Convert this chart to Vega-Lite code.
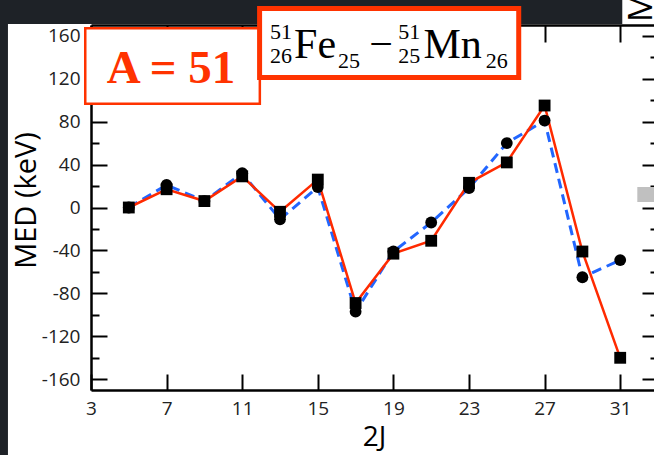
{
  "$schema": "https://vega.github.io/schema/vega-lite/v6.json",
  "width": 567,
  "height": 365,
  "autosize": {"type": "none"},
  "padding": {"left": 91, "top": 25, "right": -4, "bottom": 65},
  "background": "white",
  "data": {"values": [{}]},
  "config": {
    "view": {"stroke": "transparent"},
    "axis": {"grid": false, "domainColor": "black", "tickColor": "black", "labelColor": "#222", "titleColor": "black", "labelFont": "Open Sans", "titleFont": "Open Sans", "titleFontWeight": "normal"}
  },
  "datasets": {
    "med": [
      {"twoJ": 5, "series": "calc1", "MED": 0},
      {"twoJ": 7, "series": "calc1", "MED": 17},
      {"twoJ": 9, "series": "calc1", "MED": 6},
      {"twoJ": 11, "series": "calc1", "MED": 29},
      {"twoJ": 13, "series": "calc1", "MED": -4},
      {"twoJ": 15, "series": "calc1", "MED": 26},
      {"twoJ": 17, "series": "calc1", "MED": -89},
      {"twoJ": 19, "series": "calc1", "MED": -43},
      {"twoJ": 21, "series": "calc1", "MED": -31},
      {"twoJ": 23, "series": "calc1", "MED": 23},
      {"twoJ": 25, "series": "calc1", "MED": 42},
      {"twoJ": 27, "series": "calc1", "MED": 95},
      {"twoJ": 29, "series": "calc1", "MED": -41},
      {"twoJ": 31, "series": "calc1", "MED": -140},
      {"twoJ": 5, "series": "calc2", "MED": 0},
      {"twoJ": 7, "series": "calc2", "MED": 21},
      {"twoJ": 9, "series": "calc2", "MED": 6},
      {"twoJ": 11, "series": "calc2", "MED": 32},
      {"twoJ": 13, "series": "calc2", "MED": -11},
      {"twoJ": 15, "series": "calc2", "MED": 19},
      {"twoJ": 17, "series": "calc2", "MED": -97},
      {"twoJ": 19, "series": "calc2", "MED": -41},
      {"twoJ": 21, "series": "calc2", "MED": -14},
      {"twoJ": 23, "series": "calc2", "MED": 18},
      {"twoJ": 25, "series": "calc2", "MED": 60},
      {"twoJ": 27, "series": "calc2", "MED": 81},
      {"twoJ": 29, "series": "calc2", "MED": -65},
      {"twoJ": 31, "series": "calc2", "MED": -49}
    ]
  },
  "resolve": {"axis": {"x": "independent", "y": "independent"}},
  "layer": [
    {
      "data": {"name": "med"},
      "transform": [{"filter": "datum.series === 'calc2'"}],
      "mark": {"type": "line", "color": "#2266ff", "strokeWidth": 3, "strokeDash": [10, 6]},
      "encoding": {
        "x": {"field": "twoJ", "type": "quantitative", "scale": {"domain": [3, 33], "nice": false, "zero": false},
          "axis": {"orient": "bottom", "values": [3, 7, 11, 15, 19, 23, 27, 31], "tickSize": -16, "tickWidth": 2, "domainWidth": 2.5, "labelPadding": 25, "labelFontSize": 19, "labelFlush": false, "labelOverlap": false,
            "title": "2J", "titleFontSize": 28, "titleX": 283, "titleY": 55, "titleBaseline": "alphabetic", "titleAlign": "center"}},
        "y": {"field": "MED", "type": "quantitative", "scale": {"domain": [-170, 170], "nice": false, "zero": false},
          "axis": {"orient": "left", "values": [-160, -120, -80, -40, 0, 40, 80, 120, 160], "tickSize": -16, "tickWidth": 2, "domainWidth": 2.5, "labelPadding": 27, "labelFontSize": 19, "labelFlush": false, "labelOverlap": false, "labelExpr": "toString(datum.value)",
            "title": "MED (keV)", "titleFontSize": 29, "titleX": -56, "titleY": 175, "titleAngle": -90, "titleBaseline": "alphabetic", "titleAlign": "center"}}
      }
    },
    {
      "data": {"name": "med"},
      "transform": [{"filter": "datum.series === 'calc1'"}],
      "mark": {"type": "line", "color": "#ff2a00", "strokeWidth": 2.5},
      "encoding": {
        "x": {"field": "twoJ", "type": "quantitative", "scale": {"domain": [3, 33], "nice": false, "zero": false},
          "axis": {"orient": "top", "values": [3, 7, 11, 15, 19, 23, 27, 31], "tickSize": -17, "tickWidth": 2, "domainWidth": 2.5, "labels": false, "title": null}},
        "y": {"field": "MED", "type": "quantitative", "scale": {"domain": [-170, 170], "nice": false, "zero": false},
          "axis": {"orient": "right", "values": [-160, -120, -80, -40, 0, 40, 80, 120, 160], "tickSize": -16, "tickWidth": 2, "domain": false, "labels": false, "title": null}}
      }
    },
    {
      "data": {"name": "med"},
      "transform": [{"filter": "datum.series === 'calc1'"}],
      "mark": {"type": "point", "shape": "square", "filled": true, "color": "black", "opacity": 1, "size": 140},
      "encoding": {
        "x": {"field": "twoJ", "type": "quantitative", "axis": null},
        "y": {"field": "MED", "type": "quantitative",
          "axis": {"orient": "left", "values": [-140, -100, -60, -20, 20, 60, 100, 140], "tickSize": -8, "tickWidth": 2, "domain": false, "labels": false, "title": null}}
      }
    },
    {
      "data": {"name": "med"},
      "transform": [{"filter": "datum.series === 'calc2'"}],
      "mark": {"type": "point", "shape": "circle", "filled": true, "color": "black", "opacity": 1, "size": 140},
      "encoding": {
        "x": {"field": "twoJ", "type": "quantitative", "axis": null},
        "y": {"field": "MED", "type": "quantitative",
          "axis": {"orient": "right", "values": [-140, -100, -60, -20, 20, 60, 100, 140], "tickSize": -8, "tickWidth": 2, "domain": false, "labels": false, "title": null}}
      }
    },
    {
      "mark": {"type": "rect", "color": "#1e2227"},
      "encoding": {
        "x": {"datum": -3, "type": "quantitative", "axis": null},
        "x2": {"datum": -1.394},
        "y": {"datum": -260, "type": "quantitative", "axis": null},
        "y2": {"datum": 200}
      }
    },
    {
      "mark": {"type": "rect", "color": "#1e2227"},
      "encoding": {
        "x": {"datum": -3, "type": "quantitative", "axis": null},
        "x2": {"datum": 31.11},
        "y": {"datum": 170.94, "type": "quantitative", "axis": null},
        "y2": {"datum": 200}
      }
    },
    {
      "mark": {"type": "rect", "color": "#c0c0c0"},
      "encoding": {
        "x": {"datum": 31.905, "type": "quantitative", "axis": null},
        "x2": {"datum": 34},
        "y": {"datum": 5.12, "type": "quantitative", "axis": null},
        "y2": {"datum": 19.1}
      }
    },
    {
      "mark": {"type": "text", "text": "M", "font": "Open Sans", "fontSize": 33, "angle": 270, "align": "left", "baseline": "alphabetic", "color": "black"},
      "encoding": {
        "x": {"datum": 32.7, "type": "quantitative", "axis": null},
        "y": {"datum": 172.8, "type": "quantitative", "axis": null}
      }
    },
    {
      "mark": {"type": "rect", "fill": "white", "stroke": "#ff3300", "strokeWidth": 2.5},
      "encoding": {
        "x": {"datum": 2.696, "type": "quantitative", "axis": null},
        "x2": {"datum": 11.933},
        "y": {"datum": 96.65, "type": "quantitative", "axis": null},
        "y2": {"datum": 166.98}
      }
    },
    {
      "mark": {"type": "text", "text": "A = 51", "font": "Liberation Serif", "fontWeight": "bold", "fontSize": 47, "align": "center", "baseline": "alphabetic", "color": "#ff3300"},
      "encoding": {
        "x": {"datum": 7.235, "type": "quantitative", "axis": null},
        "y": {"datum": 115.98, "type": "quantitative", "axis": null}
      }
    },
    {
      "mark": {"type": "rect", "fill": "white", "stroke": "#ff3300", "strokeWidth": 5},
      "encoding": {
        "x": {"datum": 11.92, "type": "quantitative", "axis": null},
        "x2": {"datum": 25.631},
        "y": {"datum": 121.1, "type": "quantitative", "axis": null},
        "y2": {"datum": 185.37}
      }
    },
    {
      "mark": {"type": "text", "text": "51", "font": "Liberation Serif", "fontSize": 22, "align": "center", "baseline": "alphabetic", "color": "black"},
      "encoding": {"x": {"datum": 13.058, "type": "quantitative", "axis": null}, "y": {"datum": 156.96, "type": "quantitative", "axis": null}}
    },
    {
      "mark": {"type": "text", "text": "26", "font": "Liberation Serif", "fontSize": 22, "align": "center", "baseline": "alphabetic", "color": "black"},
      "encoding": {"x": {"datum": 13.058, "type": "quantitative", "axis": null}, "y": {"datum": 134.61, "type": "quantitative", "axis": null}}
    },
    {
      "mark": {"type": "text", "text": "Fe", "font": "Liberation Serif", "fontSize": 42, "align": "center", "baseline": "alphabetic", "color": "black"},
      "encoding": {"x": {"datum": 14.858, "type": "quantitative", "axis": null}, "y": {"datum": 139.26, "type": "quantitative", "axis": null}}
    },
    {
      "mark": {"type": "text", "text": "25", "font": "Liberation Serif", "fontSize": 22, "align": "center", "baseline": "alphabetic", "color": "black"},
      "encoding": {"x": {"datum": 16.65, "type": "quantitative", "axis": null}, "y": {"datum": 129.95, "type": "quantitative", "axis": null}}
    },
    {
      "mark": {"type": "text", "text": "−", "font": "Liberation Serif", "fontSize": 42, "align": "center", "baseline": "alphabetic", "color": "black"},
      "encoding": {"x": {"datum": 18.35, "type": "quantitative", "axis": null}, "y": {"datum": 139.26, "type": "quantitative", "axis": null}}
    },
    {
      "mark": {"type": "text", "text": "51", "font": "Liberation Serif", "fontSize": 22, "align": "center", "baseline": "alphabetic", "color": "black"},
      "encoding": {"x": {"datum": 19.834, "type": "quantitative", "axis": null}, "y": {"datum": 156.96, "type": "quantitative", "axis": null}}
    },
    {
      "mark": {"type": "text", "text": "25", "font": "Liberation Serif", "fontSize": 22, "align": "center", "baseline": "alphabetic", "color": "black"},
      "encoding": {"x": {"datum": 19.834, "type": "quantitative", "axis": null}, "y": {"datum": 134.61, "type": "quantitative", "axis": null}}
    },
    {
      "mark": {"type": "text", "text": "Mn", "font": "Liberation Serif", "fontSize": 42, "align": "center", "baseline": "alphabetic", "color": "black"},
      "encoding": {"x": {"datum": 22.137, "type": "quantitative", "axis": null}, "y": {"datum": 139.26, "type": "quantitative", "axis": null}}
    },
    {
      "mark": {"type": "text", "text": "26", "font": "Liberation Serif", "fontSize": 22, "align": "center", "baseline": "alphabetic", "color": "black"},
      "encoding": {"x": {"datum": 24.467, "type": "quantitative", "axis": null}, "y": {"datum": 129.95, "type": "quantitative", "axis": null}}
    }
  ]
}
